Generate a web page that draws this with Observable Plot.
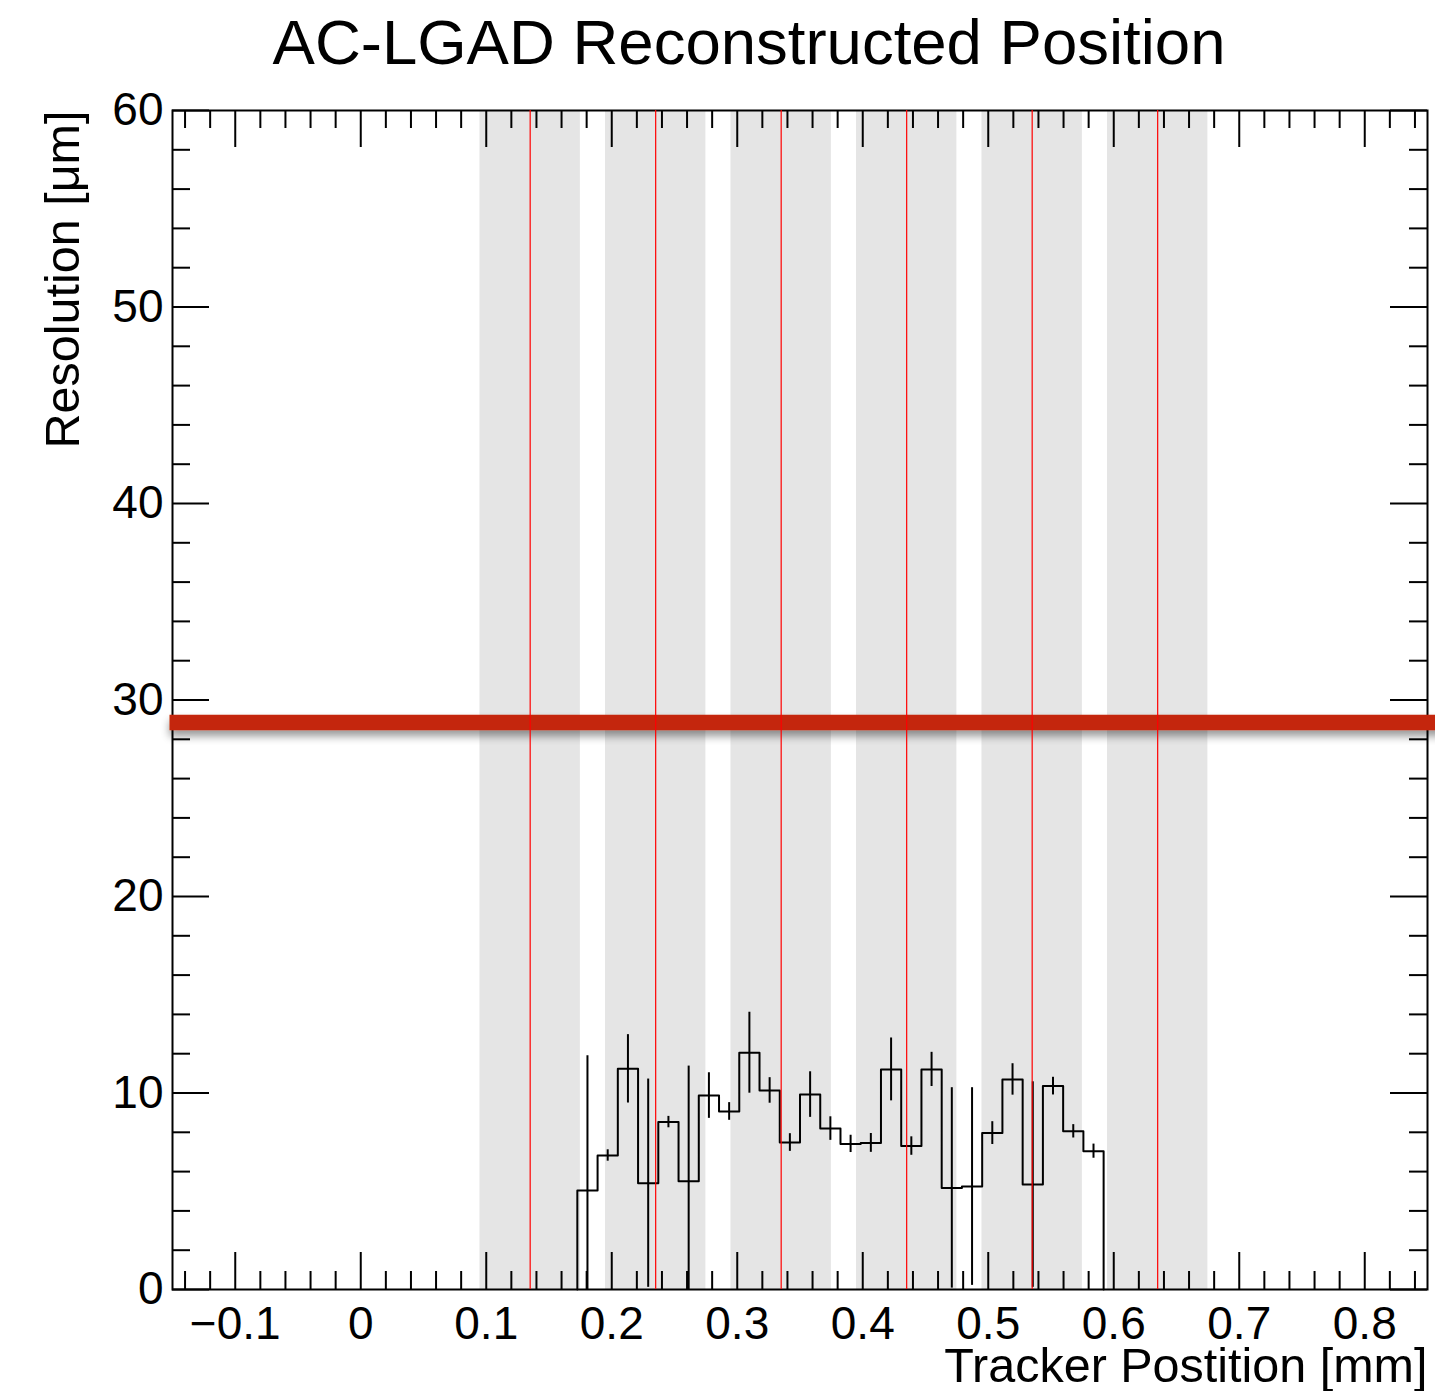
<!DOCTYPE html>
<html><head><meta charset="utf-8">
<script src="https://cdn.jsdelivr.net/npm/d3@7"></script>
<script src="https://cdn.jsdelivr.net/npm/@observablehq/plot@0.6"></script>
<style>
body{margin:0;background:#fff}
svg{font-family:"Liberation Sans",Arial,Helvetica,sans-serif}
</style>
</head><body><div id="chart"></div>
<script>
// ---- data ----
const title = "AC-LGAD Reconstructed Position";
const xLabel = "Tracker Postition [mm]";
const yLabel = "Resolution [μm]";
const xTicks = [-0.1, 0, 0.1, 0.2, 0.3, 0.4, 0.5, 0.6, 0.7, 0.8];
const yTicks = [0, 10, 20, 30, 40, 50, 60];
const xMinorStep = 0.02;
const yMinorStep = 2;
// histogram: 26 bins starting at binStart, each binWidth wide
const binStart = 0.17258;
const binWidth = 0.016129;
const resolution = [5.04, 6.82, 11.23, 5.41, 8.52, 5.51, 9.87, 9.06, 12.05, 10.13, 7.48, 9.92, 8.19,
                    7.41, 7.46, 11.2, 7.3, 11.2, 5.17, 5.24, 7.96, 10.69, 5.34, 10.35, 8.05, 7.04];
const resolutionErr = [6.86, 0.29, 1.74, 5.3, 0.29, 5.86, 1.16, 0.45, 2.06, 0.65, 0.45, 1.16, 0.6,
                       0.44, 0.48, 1.6, 0.47, 0.87, 5.1, 5.03, 0.58, 0.8, 5.23, 0.45, 0.34, 0.36];
// pad (metal) regions and their centres
const padStart = [0.095, 0.195, 0.295, 0.395, 0.495, 0.595];
const padEnd   = [0.175, 0.275, 0.375, 0.475, 0.575, 0.675];
const padCenter = [0.135, 0.235, 0.335, 0.435, 0.535, 0.635];
const targetResolution = 28.85;
const targetFrom = -0.152, targetTo = 0.87;

// ---- derived tables ----
const bins = resolution.map((v, i) => ({
  lo: binStart + i * binWidth, hi: binStart + (i + 1) * binWidth,
  c: binStart + (i + 0.5) * binWidth, v, e: resolutionErr[i]
}));
const step = [{x: bins[0].lo, y: 0}];
bins.forEach(b => { step.push({x: b.lo, y: b.v}); step.push({x: b.hi, y: b.v}); });
step.push({x: bins[bins.length - 1].hi, y: 0});
const pads = padStart.map((s, i) => ({s, e: padEnd[i]}));
const xDomain = [-0.15, 0.85];
const xMinor = d3.range(-0.14, 0.85, xMinorStep).map(d => +d.toFixed(3))
  .filter(d => !xTicks.some(t => Math.abs(t - d) < 1e-6));
const yMinor = d3.range(2, 60, yMinorStep).filter(d => d % 10 !== 0);
const fmtX = d => d === 0 ? "0" : (d < 0 ? "\u2212" : "") + Math.abs(d).toFixed(1);

const W = 1435, H = 1391, mt = 110, mb = 102, ml = 172, mr = 8;
const innerH = H - mt - mb, innerW = W - ml - mr;
const major = 37, minor = 18;
const fs = 46, fsTitle = 48.5;
const targetColor = "#c4280c";

const chart = Plot.plot({
  width: W, height: H,
  marginTop: mt, marginBottom: mb, marginLeft: ml, marginRight: mr,
  x: {domain: xDomain, axis: null},
  y: {domain: [0, 60], axis: null},
  style: {fontFamily: '"Liberation Sans", Arial, Helvetica, sans-serif', background: "#fff"},
  marks: [
    Plot.rect(pads, {x1: "s", x2: "e", fill: "#e5e5e5"}),
    Plot.line(step, {x: "x", y: "y", stroke: "#000", strokeWidth: 2, curve: "linear"}),
    Plot.ruleX(bins, {x: "c", y1: d => d.v - d.e, y2: d => d.v + d.e, stroke: "#000", strokeWidth: 2, clip: true}),
    // ticks (inside, ROOT style)
    Plot.ruleX(xTicks, {insetTop: innerH - major, stroke: "#000", strokeWidth: 2}),
    Plot.ruleX(xTicks, {insetBottom: innerH - major, stroke: "#000", strokeWidth: 2}),
    Plot.ruleX(xMinor, {insetTop: innerH - minor, stroke: "#000", strokeWidth: 2}),
    Plot.ruleX(xMinor, {insetBottom: innerH - minor, stroke: "#000", strokeWidth: 2}),
    Plot.ruleY(yTicks, {insetRight: innerW - major, stroke: "#000", strokeWidth: 2}),
    Plot.ruleY(yTicks, {insetLeft: innerW - major, stroke: "#000", strokeWidth: 2}),
    Plot.ruleY(yMinor, {insetRight: innerW - minor, stroke: "#000", strokeWidth: 2}),
    Plot.ruleY(yMinor, {insetLeft: innerW - minor, stroke: "#000", strokeWidth: 2}),
    Plot.frame({stroke: "#000", strokeWidth: 2}),
    Plot.ruleY([targetResolution], {x1: () => targetFrom, x2: () => targetTo, stroke: targetColor, strokeWidth: 15.5}),
    Plot.ruleX(padCenter, {stroke: "#ff0000", strokeWidth: 1.2}),
    // tick labels
    Plot.text(xTicks, {x: d => d, text: fmtX, frameAnchor: "bottom", lineAnchor: "bottom", dy: 49, fontSize: fs, fill: "#000"}),
    Plot.text(yTicks, {y: d => d, text: d => String(d), frameAnchor: "left", textAnchor: "end", lineAnchor: "middle", dx: -9, fontSize: fs, fill: "#000"}),
    // titles
    Plot.text([title], {frameAnchor: "top", lineAnchor: "bottom", dy: 63 - mt, dx: 748.5 - (ml + innerW / 2), fontSize: 63.5, fill: "#000"}),
    Plot.text([xLabel], {frameAnchor: "bottom-right", textAnchor: "end", lineAnchor: "bottom", dy: 1381 - (H - mb), fontSize: fsTitle, fill: "#000"}),
    Plot.text([yLabel], {frameAnchor: "top-left", rotate: -90, textAnchor: "end", lineAnchor: "bottom", dx: 78 - ml, fontSize: fsTitle, fill: "#000"})
  ]
});
document.getElementById("chart").appendChild(chart);
// soft shadow under the target line (user-space filter region: a horizontal line has a flat bbox)
const svg = d3.select(chart.tagName.toLowerCase() === "svg" ? chart : chart.querySelector("svg"));
const defs = svg.insert("defs", ":first-child");
const f = defs.append("filter").attr("id", "tshadow").attr("filterUnits", "userSpaceOnUse")
  .attr("x", 0).attr("y", 0).attr("width", W).attr("height", H);
f.append("feGaussianBlur").attr("in", "SourceAlpha").attr("stdDeviation", 4).attr("result", "b");
f.append("feOffset").attr("in", "b").attr("dy", 6).attr("result", "o");
f.append("feComponentTransfer").attr("in", "o").attr("result", "s")
  .append("feFuncA").attr("type", "linear").attr("slope", 0.4);
const m = f.append("feMerge");
m.append("feMergeNode").attr("in", "s");
m.append("feMergeNode").attr("in", "SourceGraphic");
svg.selectAll("g").filter(function () { return this.getAttribute("stroke") === targetColor; })
  .attr("filter", "url(#tshadow)");
</script>
</body></html>
